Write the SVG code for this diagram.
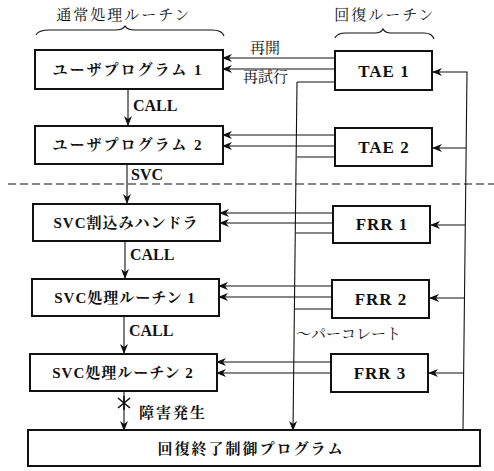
<svg xmlns="http://www.w3.org/2000/svg" width="494" height="471" viewBox="0 0 494 471">
<style>
.box{fill:#fff;stroke:#111;stroke-width:2}
.ln{fill:none;stroke:#111;stroke-width:1.1}
.lbl{font-family:"Liberation Serif","Noto Serif CJK JP","Noto Sans CJK JP",serif;font-size:15px;font-weight:bold;fill:#111;text-anchor:middle}
.lat{font-size:17px;letter-spacing:1px}
.hd{font-family:"Liberation Serif","Noto Serif CJK JP","Noto Sans CJK JP",serif;font-size:15px;fill:#111}
.sm{font-family:"Liberation Serif","Noto Serif CJK JP","Noto Sans CJK JP",serif;font-size:16px;font-weight:bold;fill:#111}
</style>
<defs>
<marker id="ah" markerWidth="10" markerHeight="8" refX="9" refY="4" orient="auto" markerUnits="userSpaceOnUse">
<path d="M0,0 L10,4 L0,8 L3,4 Z" fill="#111"/>
</marker>
</defs>
<g id="headers">
<text class="hd" x="124" y="20" text-anchor="middle" letter-spacing="2">通常処理ルーチン</text>
<path class="ln" d="M36,35 Q38,30 50,30 L115,30 Q123,30 125,26 Q127,30 135,30 L212,30 Q222,30 224,36"/>
<text class="hd" x="385" y="20" text-anchor="middle" letter-spacing="2">回復ルーチン</text>
<path class="ln" d="M335,38 Q337,33 346,33 L375,33 Q381,33 383,29 Q385,33 391,33 L424,33 Q432,33 434,39"/>
</g>
<g id="divider">
<line x1="8" y1="184" x2="494" y2="184" stroke="#111" stroke-width="1.2" stroke-dasharray="8,4"/>
</g>
<g id="connectors" class="ln">
<line x1="128" y1="89" x2="128" y2="125" marker-end="url(#ah)"/>
<line x1="127" y1="164" x2="127" y2="203" marker-end="url(#ah)"/>
<line x1="125" y1="241" x2="125" y2="278" marker-end="url(#ah)"/>
<line x1="124" y1="316" x2="124" y2="353" marker-end="url(#ah)"/>
<line x1="124" y1="391" x2="124" y2="430" marker-end="url(#ah)"/>
<line x1="335" y1="58" x2="223" y2="58" marker-end="url(#ah)"/>
<line x1="335" y1="69" x2="223" y2="69" marker-end="url(#ah)"/>
<line x1="335" y1="135" x2="223" y2="135" marker-end="url(#ah)"/>
<line x1="335" y1="146" x2="223" y2="146" marker-end="url(#ah)"/>
<line x1="333" y1="213" x2="220" y2="213" marker-end="url(#ah)"/>
<line x1="333" y1="223" x2="220" y2="223" marker-end="url(#ah)"/>
<line x1="332" y1="286" x2="219" y2="286" marker-end="url(#ah)"/>
<line x1="332" y1="297" x2="219" y2="297" marker-end="url(#ah)"/>
<line x1="331" y1="362" x2="217" y2="362" marker-end="url(#ah)"/>
<line x1="331" y1="373" x2="217" y2="373" marker-end="url(#ah)"/>
<line x1="335" y1="82" x2="297" y2="82"/>
<line x1="335" y1="157" x2="297" y2="157"/>
<line x1="333" y1="233" x2="296" y2="233"/>
<line x1="332" y1="309" x2="295" y2="309"/>
<polyline points="297,82 293,430" marker-end="url(#ah)"/>
<polyline points="463,430 467,72 433,72" marker-end="url(#ah)"/>
<line x1="466" y1="148" x2="433" y2="148" marker-end="url(#ah)"/>
<line x1="465" y1="225" x2="431" y2="225" marker-end="url(#ah)"/>
<line x1="465" y1="298" x2="430" y2="298" marker-end="url(#ah)"/>
<line x1="464" y1="373" x2="429" y2="373" marker-end="url(#ah)"/>
<path d="M118,398 L130,408 M130,398 L118,408 M124,396 L124,410" stroke-width="1.6"/>
</g>
<g id="edge-labels">
<text class="sm" x="133" y="111">CALL</text>
<text class="sm" x="131" y="180">SVC</text>
<text class="sm" x="130" y="260">CALL</text>
<text class="sm" x="129" y="336">CALL</text>
<text class="hd" x="139" y="418" letter-spacing="2" font-weight="bold">障害発生</text>
<text class="hd" x="250" y="53" font-size="13">再開</text>
<text class="hd" x="243" y="82" font-size="13">再試行</text>
<text class="hd" x="296" y="339" font-size="11.5">〜パーコレート</text>
</g>
<g id="up1"><rect class="box" x="35" y="50" width="188" height="39"/><text class="lbl" x="128" y="75" letter-spacing="2">ユーザプログラム 1</text></g>
<g id="up2"><rect class="box" x="35" y="126" width="188" height="38"/><text class="lbl" x="128" y="150" letter-spacing="2">ユーザプログラム 2</text></g>
<g id="svch"><rect class="box" x="33" y="204" width="187" height="37"/><text class="lbl" x="126" y="228" letter-spacing="1">SVC割込みハンドラ</text></g>
<g id="svc1"><rect class="box" x="32" y="279" width="187" height="37"/><text class="lbl" x="125" y="303" letter-spacing="1">SVC処理ルーチン 1</text></g>
<g id="svc2"><rect class="box" x="30" y="354" width="187" height="37"/><text class="lbl" x="123" y="378" letter-spacing="1">SVC処理ルーチン 2</text></g>
<g id="tae1"><rect class="box" x="335" y="51" width="97" height="39"/><text class="lbl lat" x="384" y="77">TAE 1</text></g>
<g id="tae2"><rect class="box" x="335" y="128" width="97" height="38"/><text class="lbl lat" x="384" y="153">TAE 2</text></g>
<g id="frr1"><rect class="box" x="333" y="206" width="97" height="37"/><text class="lbl lat" x="382" y="230">FRR 1</text></g>
<g id="frr2"><rect class="box" x="332" y="280" width="97" height="38"/><text class="lbl lat" x="381" y="305">FRR 2</text></g>
<g id="frr3"><rect class="box" x="331" y="354" width="97" height="38"/><text class="lbl lat" x="380" y="379">FRR 3</text></g>
<g id="rcp"><rect class="box" x="28" y="430" width="452" height="36"/><text class="lbl" x="251" y="454" font-weight="normal" letter-spacing="2">回復終了制御プログラム</text></g>
</svg>
